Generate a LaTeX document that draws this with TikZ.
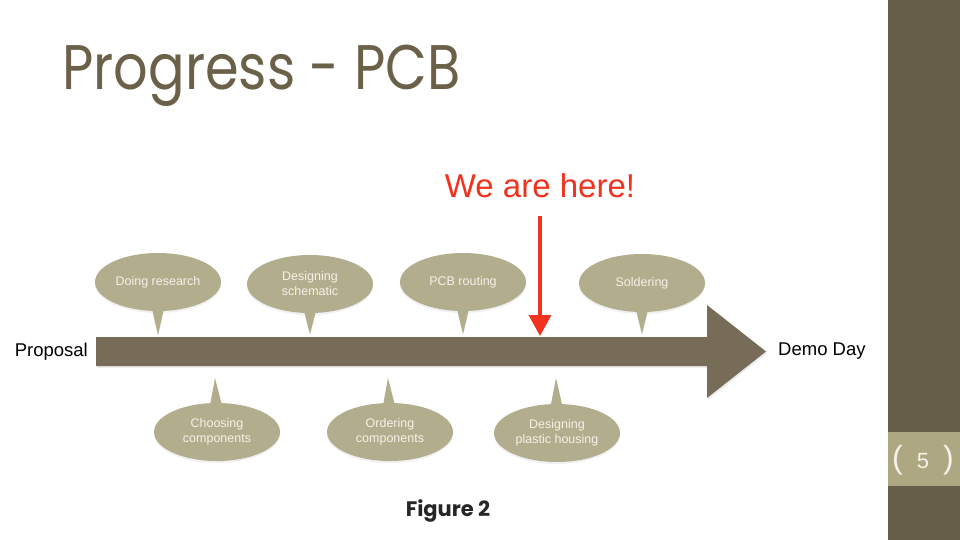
\documentclass[tikz,border=0pt]{standalone}
\usepackage{fontspec}
\setmainfont{Liberation Sans}
\newfontfamily\titlefont{Poppins}
\usetikzlibrary{shapes.callouts,arrows.meta,shadows}

\definecolor{slidebrown}{HTML}{6B6048}
\definecolor{timeline}{HTML}{766C58}
\definecolor{bubblefill}{HTML}{B2AD8C}
\definecolor{bubbletext}{HTML}{F4F2EA}
\definecolor{sidebar}{HTML}{665E48}
\definecolor{sideband}{HTML}{ADA882}
\definecolor{herered}{HTML}{F0321E}

\tikzset{
	bubble/.style={
		ellipse callout,
		fill=bubblefill,
		text=bubbletext,
		minimum width=126pt,
		minimum height=58pt,
		inner sep=0pt,
		align=center,
		callout pointer arc=10,
		font=\fontsize{12.5}{15}\selectfont,
		drop shadow={opacity=0.12, shadow xshift=0pt, shadow yshift=-2pt}},
	milestone/.style={
		inner sep=0pt,
		font=\fontsize{18.5}{20}\selectfont}
}

\begin{document}
\begin{tikzpicture}[x=1pt, y=-1pt]
				%\draw[help lines] (0,0) grid (960,540);
				\useasboundingbox (0,0) rectangle (960,540);
				
				% side bar with page number
				\fill[sidebar] (888,0) rectangle (960,540);
				\fill[sideband] (888,432) rectangle (960,486);
				\node[text=bubbletext, font=\fontsize{22}{22}\selectfont] (page) at (923,460)
					{{\fontsize{32}{32}\selectfont(}\hspace{14pt}5\hspace{14pt}{\fontsize{32}{32}\selectfont)}};
				
				\node[anchor=base west, inner sep=0pt, text=slidebrown, font=\titlefont\fontsize{63}{63}\selectfont] (title) at (62,90) {\scalebox{0.86}[1]{Progress - PCB}};
				
				% timeline
				\coordinate (start) at (96,351.5);
				\coordinate (end) at (766,351.5);
				\fill[timeline, drop shadow={opacity=0.15, shadow xshift=1pt, shadow yshift=-2pt}]
					(start |- 0,337) -- (707,337) -- (707,305) -- (end) -- (707,398) -- (707,366) -- (start |- 0,366) -- cycle;
				\node[milestone, anchor=east] (proposal) at ([xshift=-8pt]start) {Proposal};
				\node[milestone, anchor=west] (demo) at ([xshift=12pt]end) {Demo Day};
				
				% bubbles above
				\node[bubble, callout absolute pointer={(158,335)}] (research) at (158,282) {Doing research};
				\node[bubble, callout absolute pointer={(310,334)}] (schematic) at (310,284) {Designing\\schematic};
				\node[bubble, callout absolute pointer={(463,334)}] (routing) at (463,282) {PCB routing};
				\node[bubble, callout absolute pointer={(642,334)}] (soldering) at (642,283) {Soldering};
				
				% bubbles below
				\node[bubble, callout absolute pointer={(215,378)}] (choosing) at (217,432) {Choosing\\components};
				\node[bubble, callout absolute pointer={(388,378)}] (ordering) at (390,432) {Ordering\\components};
				\node[bubble, callout absolute pointer={(556,378)}] (housing) at (557,433) {Designing\\plastic housing};
				
				% we are here
				\node[anchor=base, inner sep=0pt, text=herered, font=\fontsize{33}{33}\selectfont] (here) at (540,197) {We are here!};
				\coordinate (now) at (540,336);
				\draw[herered, line width=3.5pt, -{Triangle[width=22pt,length=21pt]}] ([yshift=-19pt]here.base) -- (now);
				
				\node[anchor=base, inner sep=0pt, text=black!85, font=\titlefont\bfseries\fontsize{21}{21}\selectfont] (caption) at (448,516) {Figure 2};
			\end{tikzpicture}
\end{document}
